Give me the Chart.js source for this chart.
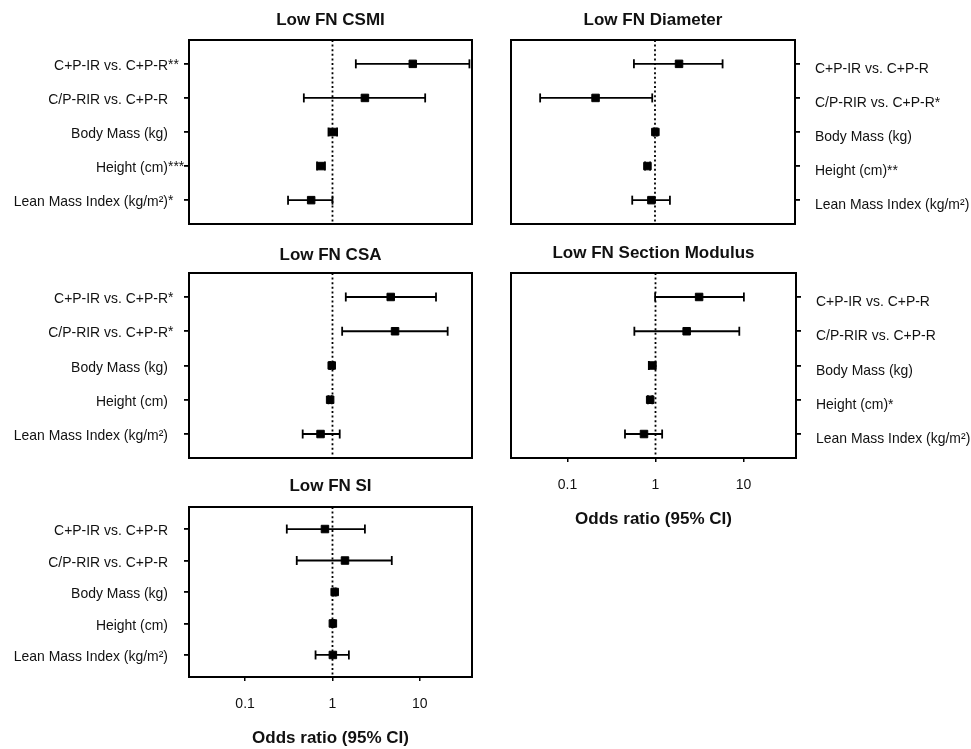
<!DOCTYPE html>
<html>
<head>
<meta charset="utf-8">
<script src="https://cdn.jsdelivr.net/npm/chart.js@4.4.0/dist/chart.umd.min.js"></script>
<style>
html, body { margin: 0; padding: 0; background: #fff; }
#wrap { position: relative; width: 971px; height: 749px; }
canvas { position: absolute; }
</style>
</head>
<body>
<div id="wrap">
  <canvas id="csmi" style="left:0;top:0" width="490" height="240"></canvas>
  <canvas id="diam" style="left:490px;top:0" width="481" height="240"></canvas>
  <canvas id="csa" style="left:0;top:240px" width="490" height="230"></canvas>
  <canvas id="sm" style="left:490px;top:240px" width="481" height="290"></canvas>
  <canvas id="si" style="left:0;top:470px" width="490" height="279"></canvas>
</div>
<script>
// rows, top to bottom
const rowLabels = ['C+P-IR vs. C+P-R', 'C/P-RIR vs. C+P-R', 'Body Mass (kg)', 'Height (cm)', 'Lean Mass Index (kg/m\u00B2)']
const xTicks = [0.1, 1, 10]
const xMin = 0.0228
const xMax = 39.5

// Low FN CSMI
const csmiOR = [8.3, 2.35, 1.01, 0.74, 0.57]
const csmiLo = [1.85, 0.47, 0.90, 0.665, 0.31]
const csmiHi = [36.9, 11.5, 1.13, 0.82, 1.0]
const csmiStars = ['**', '', '', '***', '*']

// Low FN Diameter
const diamOR = [1.88, 0.21, 1.01, 0.82, 0.91]
const diamLo = [0.575, 0.049, 0.97, 0.77, 0.55]
const diamHi = [5.9, 0.93, 1.05, 0.88, 1.48]
const diamStars = ['', '*', '', '**', '']

// Low FN CSA
const csaOR = [4.64, 5.2, 0.98, 0.94, 0.73]
const csaLo = [1.42, 1.29, 0.94, 0.90, 0.456]
const csaHi = [15.3, 20.8, 1.02, 0.98, 1.21]
const csaStars = ['*', '*', '', '', '']

// Low FN Section Modulus
const smOR = [3.13, 2.26, 0.92, 0.87, 0.74]
const smLo = [0.99, 0.575, 0.84, 0.82, 0.45]
const smHi = [10.1, 8.96, 1.0, 0.92, 1.19]
const smStars = ['', '', '', '*', '']

// Low FN SI
const siOR = [0.82, 1.39, 1.06, 1.01, 1.01]
const siLo = [0.30, 0.39, 1.03, 0.98, 0.64]
const siHi = [2.35, 4.77, 1.09, 1.04, 1.54]
const siStars = ['', '', '', '', '']

Chart.defaults.font.family = '"Liberation Sans", Arial, sans-serif'
Chart.defaults.color = '#111'

const Y_MIN = 0.3
const Y_MAX = 5.7

// box round the plot area + row labels (with hanging asterisks)
const framePlugin = {
    id: 'frame',
    afterDraw(chart, args, opts) {
        const { ctx, chartArea: a } = chart
        const ys = chart.scales.y
        const sx = 0.93 // the original labels are a bit condensed
        ctx.save()
        ctx.strokeStyle = '#000'
        ctx.lineWidth = 2
        ctx.strokeRect(a.left, a.top, a.right - a.left, a.bottom - a.top)
        ctx.font = '15px "Liberation Sans", Arial, sans-serif'
        ctx.fillStyle = '#111'
        ctx.textBaseline = 'middle'
        opts.labels.forEach((lab, i) => {
            const py = ys.getPixelForValue(i + 1)
            ctx.save()
            if (opts.side === 'left') {
                ctx.translate(a.left - 21, py + 2)
                ctx.scale(sx, 1)
                ctx.textAlign = 'right'
                ctx.fillText(lab, 0, 0)
                ctx.textAlign = 'left'
                ctx.fillText(opts.stars[i], 0, -1)
            } else {
                ctx.translate(a.right + 20, py + 5)
                ctx.scale(sx, 1)
                ctx.textAlign = 'left'
                ctx.fillText(lab + opts.stars[i], 0, 0)
            }
            ctx.restore()
        })
        ctx.restore()
    }
}

function makePanel(p) {
    const datasets = []
    // odds ratio squares (first = drawn on top)
    datasets.push({
        data: p.or.map((v, i) => ({ x: v, y: i + 1 })),
        pointStyle: 'rect',
        pointRadius: 5.3,
        pointBackgroundColor: '#000',
        pointBorderColor: '#000',
        pointBorderWidth: 1
    })
    // 95% CI whiskers
    p.or.forEach((v, i) => {
        datasets.push({
            data: [{ x: p.lo[i], y: i + 1 }, { x: p.hi[i], y: i + 1 }],
            showLine: true,
            borderColor: '#000',
            borderWidth: 1.8,
            pointStyle: 'line',
            pointRotation: 90,
            pointRadius: 4.5,
            pointBorderWidth: 1.8,
            pointBorderColor: '#000'
        })
    })
    // reference line at OR = 1
    datasets.push({
        data: [{ x: 1, y: Y_MIN }, { x: 1, y: Y_MAX }],
        showLine: true,
        borderColor: '#000',
        borderWidth: 1.8,
        borderDash: [2, 2.6],
        pointRadius: 0
    })

    const xScale = {
        type: 'logarithmic',
        position: 'bottom',
        min: xMin,
        max: xMax,
        display: p.xAxis,
        afterBuildTicks: s => { s.ticks = xTicks.map(v => ({ value: v })) },
        afterFit: s => { s.height = p.xAxis ? 72 : 0 },
        ticks: {
            autoSkip: false,
            maxRotation: 0,
            padding: 15,
            font: { size: 14 },
            color: '#111',
            callback: v => String(v)
        },
        grid: { drawOnChartArea: false, drawTicks: true, tickLength: 4, color: '#000', lineWidth: 1.5 },
        border: { display: false },
        title: {
            display: true,
            text: 'Odds ratio (95% CI)',
            font: { size: 17, weight: 'bold' },
            color: '#111',
            padding: { top: 0, bottom: 0 }
        }
    }

    const yScale = {
        type: 'linear',
        position: p.side,
        min: Y_MIN,
        max: Y_MAX,
        reverse: true,
        afterBuildTicks: s => { s.ticks = rowLabels.map((l, i) => ({ value: i + 1 })) },
        afterFit: s => { s.width = p.yWidth },
        ticks: { display: false },
        grid: { drawOnChartArea: false, drawTicks: true, tickLength: 5, color: '#000', lineWidth: 1.8 },
        border: { display: false }
    }

    new Chart(document.getElementById(p.id), {
        type: 'scatter',
        data: { datasets },
        options: {
            responsive: false,
            animation: false,
            events: [],
            layout: { padding: p.pad },
            scales: { x: xScale, y: yScale },
            plugins: {
                legend: { display: false },
                tooltip: { enabled: false },
                title: {
                    display: true,
                    text: p.title,
                    fullSize: false,
                    font: { size: 17, weight: 'bold' },
                    color: '#111',
                    padding: p.titlePad
                },
                frame: { labels: rowLabels, stars: p.stars, side: p.side }
            }
        },
        plugins: [framePlugin]
    })
}

makePanel({ id: 'csmi', title: 'Low FN CSMI', or: csmiOR, lo: csmiLo, hi: csmiHi, stars: csmiStars,
    side: 'left', yWidth: 189, xAxis: false,
    pad: { left: 0, right: 18, top: 0, bottom: 16 }, titlePad: { top: 9.8, bottom: 9.8 } })

makePanel({ id: 'diam', title: 'Low FN Diameter', or: diamOR, lo: diamLo, hi: diamHi, stars: diamStars,
    side: 'right', yWidth: 176, xAxis: false,
    pad: { left: 21, right: 0, top: 0, bottom: 16 }, titlePad: { top: 9.8, bottom: 9.8 } })

makePanel({ id: 'csa', title: 'Low FN CSA', or: csaOR, lo: csaLo, hi: csaHi, stars: csaStars,
    side: 'left', yWidth: 189, xAxis: false,
    pad: { left: 0, right: 18, top: 0, bottom: 12 }, titlePad: { top: 4.8, bottom: 7.8 } })

makePanel({ id: 'sm', title: 'Low FN Section Modulus', or: smOR, lo: smLo, hi: smHi, stars: smStars,
    side: 'right', yWidth: 175, xAxis: true,
    pad: { left: 21, right: 0, top: 0, bottom: 0 }, titlePad: { top: 2.8, bottom: 9.8 } })

makePanel({ id: 'si', title: 'Low FN SI', or: siOR, lo: siLo, hi: siHi, stars: siStars,
    side: 'left', yWidth: 189, xAxis: true,
    pad: { left: 0, right: 18, top: 0, bottom: 0 }, titlePad: { top: 6.5, bottom: 10.1 } })
</script>
</body>
</html>
